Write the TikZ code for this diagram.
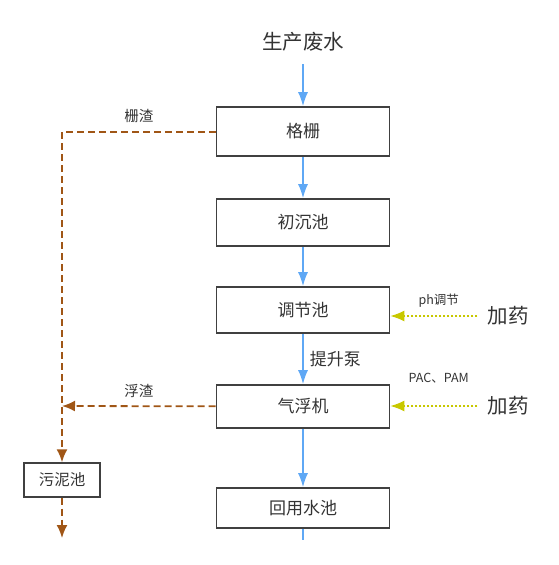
\documentclass[tikz,border=0pt]{standalone}
\usepackage{fontspec}
\setmainfont{Noto Sans CJK SC}
\usepackage{tikz}
\usetikzlibrary{positioning,arrows.meta,calc}

\definecolor{flowblue}{RGB}{95,168,245}
\definecolor{sludge}{RGB}{160,86,22}
\definecolor{dosing}{RGB}{200,200,0}
\definecolor{boxgray}{RGB}{64,64,64}
\definecolor{txtgray}{RGB}{51,51,51}

\tikzset{
  stage/.style={draw=boxgray,line width=1.6pt,minimum width=173pt,minimum height=45pt,
    inner sep=0pt,text=txtgray,font=\fontsize{17}{17}\selectfont},
  water/.style={flowblue,line width=1.6pt,-{Latex[length=14pt,width=10pt]}},
  waste/.style={sludge,line width=1.8pt,dash pattern=on 7pt off 4pt,-{Latex[length=13pt,width=11pt]}},
  drug/.style={dosing,line width=1.6pt,dash pattern=on 2pt off 2pt,shorten <=10pt,
    -{Latex[length=14pt,width=11pt]}},
  lbl/.style={text=txtgray,font=\fontsize{12.5}{12.5}\selectfont,inner sep=0pt},
  big/.style={text=txtgray,font=\fontsize{20.5}{20.5}\selectfont,inner sep=0pt}
}

\begin{document}
\begin{tikzpicture}[x=1pt,y=-1pt]
  \useasboundingbox (0,0) rectangle (559,565);
  % main line
  \node[big] (src) at (303,42) {生产废水};
  \node[stage,minimum height=49pt] (gs) at (303,131.5) {格栅};
  \node[stage,minimum height=47pt] (cc) at (303,222.5) {初沉池};
  \node[stage,minimum height=46pt] (tj) at (303,310) {调节池};
  \node[stage,minimum height=43pt] (qf) at (303,406.5) {气浮机};
  \node[stage,minimum height=40pt] (hy) at (303,508) {回用水池};
  \coordinate (srcend) at (303,64);
  \coordinate (out) at (303,540);
  \draw[water] (srcend) -- (gs);
  \draw[water] (gs) -- (cc);
  \draw[water] (cc) -- (tj);
  \draw[water] (tj) -- node[lbl,right=6pt,font=\fontsize{17}{17}\selectfont]{提升泵} (qf);
  \draw[water] (qf) -- (hy);
  \draw[water,-] (hy) -- (out);

  % sludge side
  \node[stage,minimum width=76pt,minimum height=34pt,line width=1.4pt,
    font=\fontsize{15.5}{15.5}\selectfont] (wn) at (62,480) {污泥池};
  \coordinate (corner) at (62,132);
  \coordinate (fzend) at (62,406);
  \coordinate (wnout) at (62,538);
  \draw[waste] (gs.west |- corner) -- node[lbl,above=8pt,font=\fontsize{14.5}{14.5}\selectfont]{栅渣} (corner) -- (wn);
  \draw[waste] (qf) -- node[lbl,above=8pt,font=\fontsize{14.5}{14.5}\selectfont]{浮渣} (fzend);
  \draw[waste] (wn) -- (wnout);

  % dosing
  \node[big] (jy1) at (508,316) {加药};
  \node[big] (jy2) at (508,406) {加药};
  \draw[drug] (jy1.west) -- node[lbl,above=8pt]{ph调节} (tj.east |- jy1);
  \draw[drug] (jy2.west) -- node[lbl,above=22pt]{PAC、PAM} (qf.east |- jy2);
\end{tikzpicture}
\end{document}
